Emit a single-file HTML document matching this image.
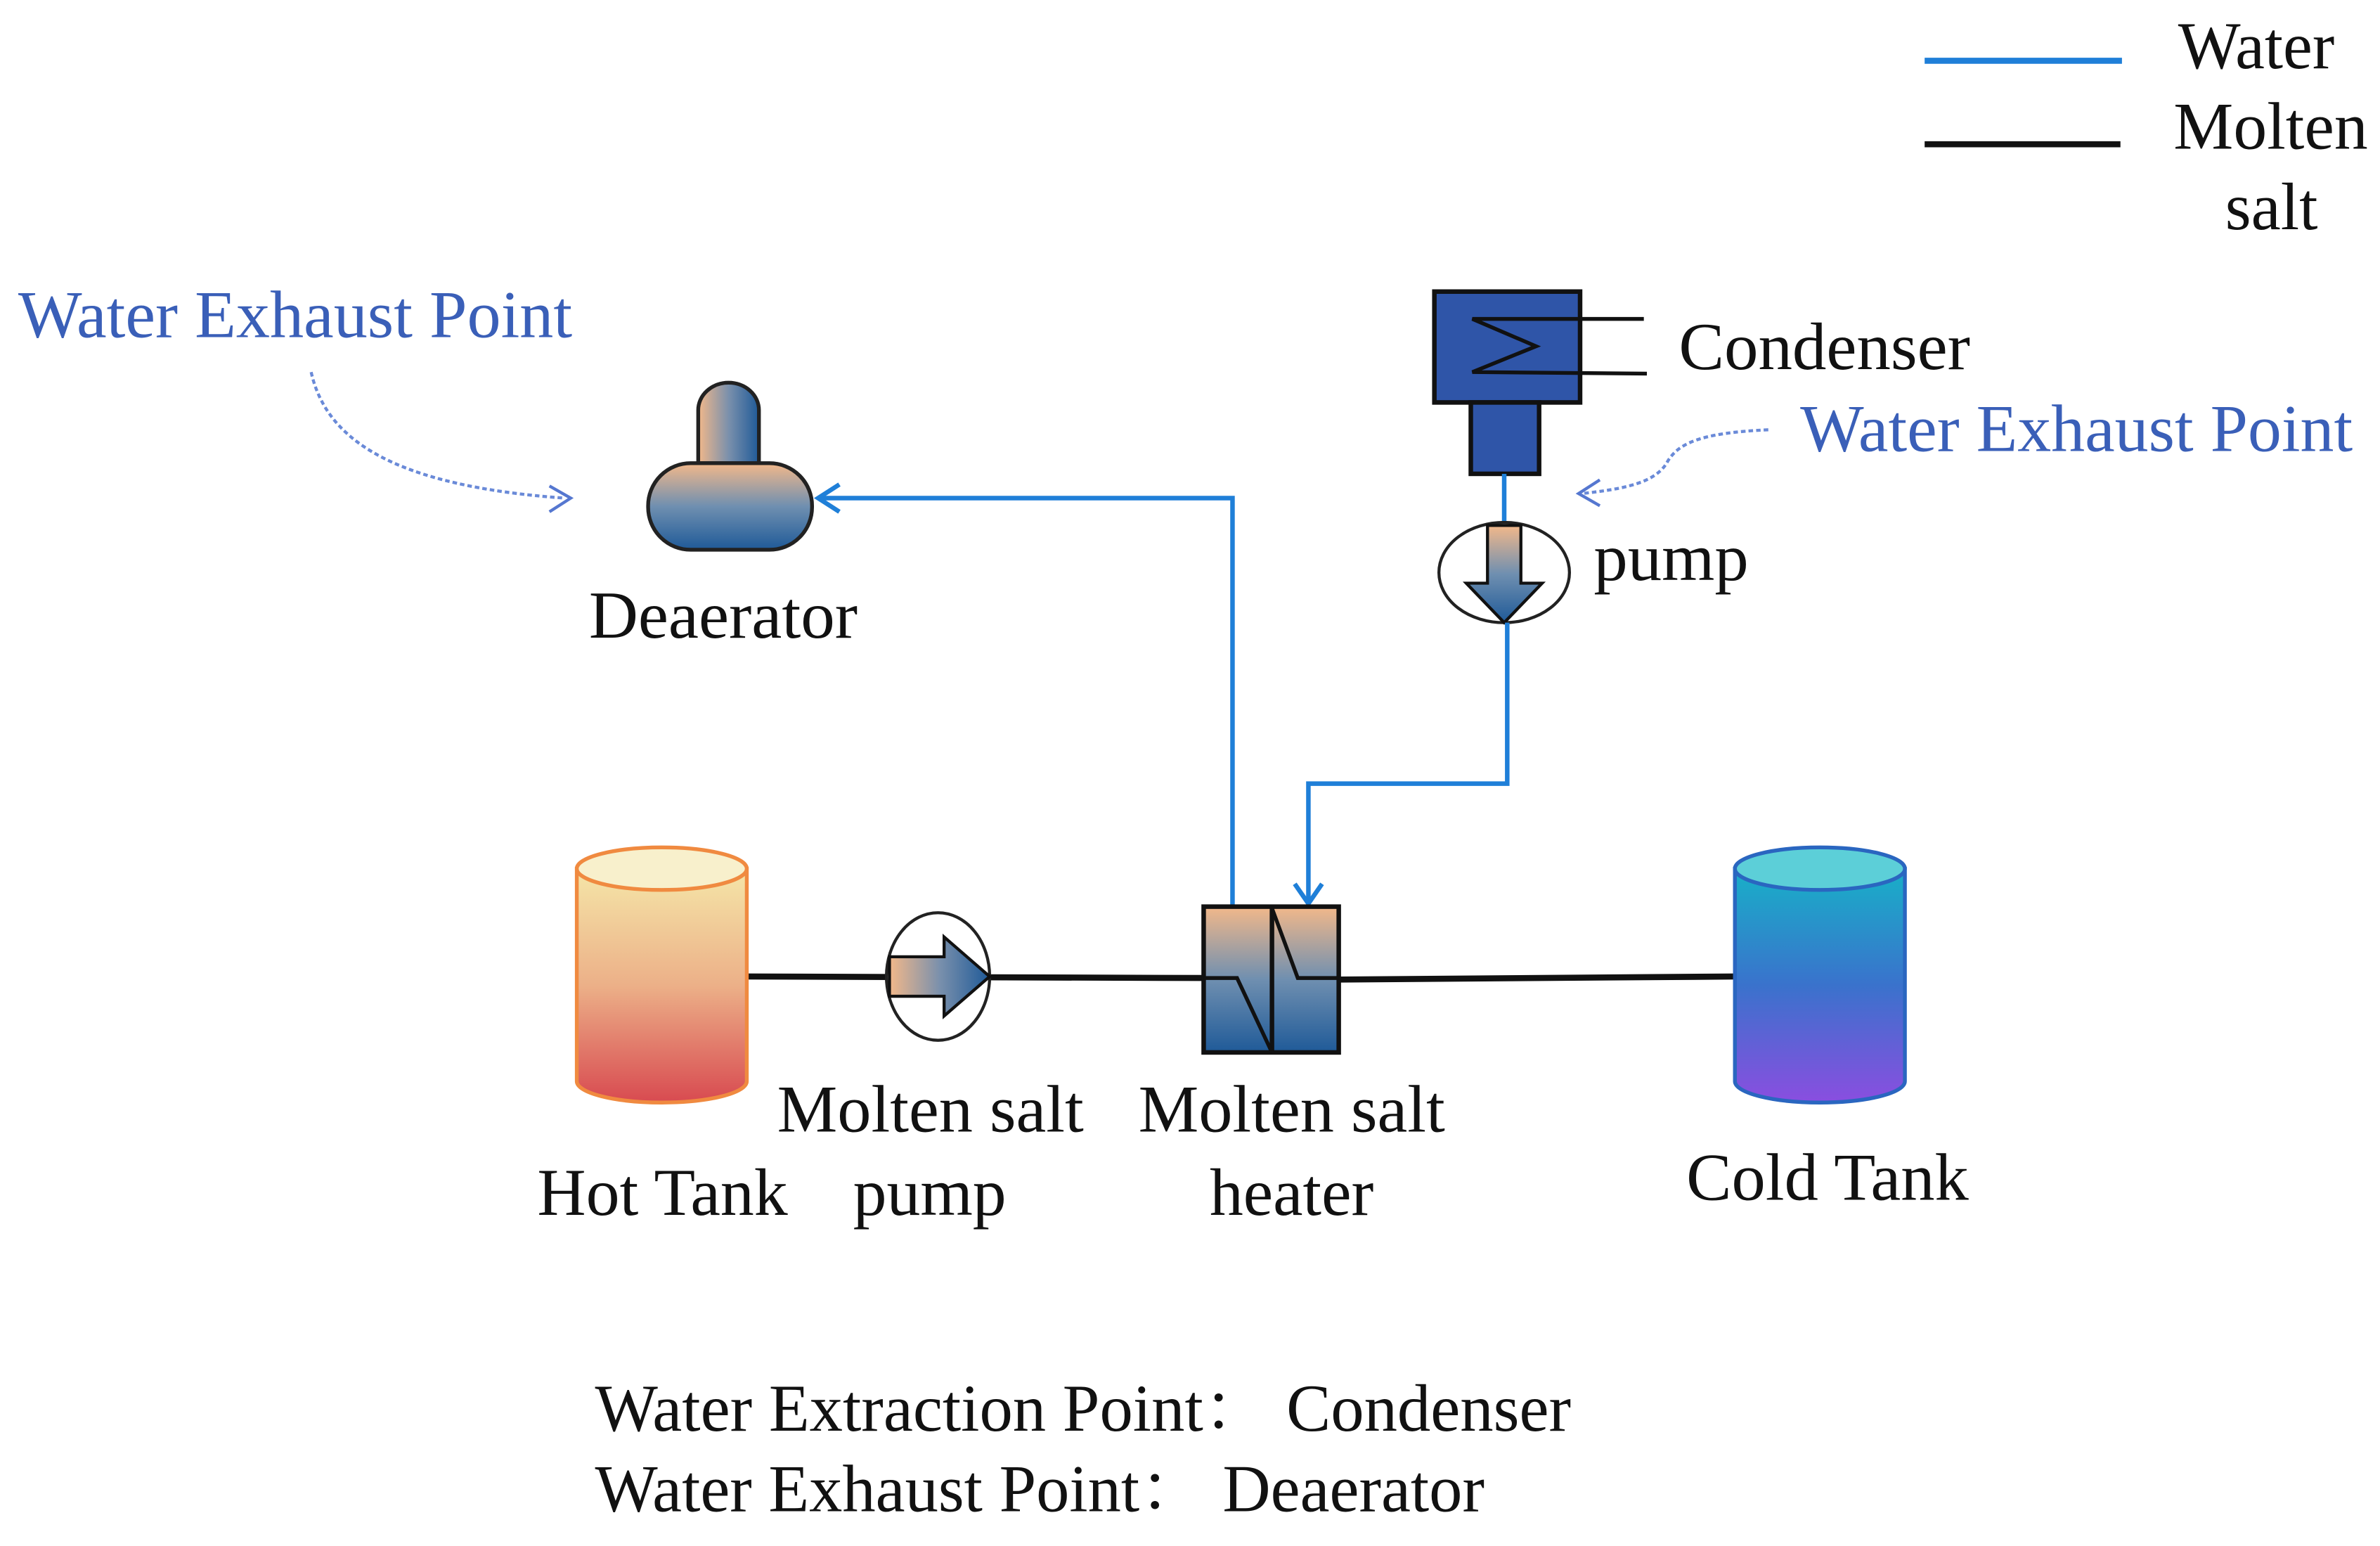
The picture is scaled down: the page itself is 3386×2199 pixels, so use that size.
<!DOCTYPE html>
<html><head><meta charset="utf-8"><style>
html,body{margin:0;padding:0;background:#fff;}
svg{display:block;}
text{font-family:"Liberation Serif","Noto Serif CJK SC",serif;}
</style></head><body>
<svg width="3386" height="2199" viewBox="0 0 1568 1018" preserveAspectRatio="none" xmlns="http://www.w3.org/2000/svg">
<defs>
<linearGradient id="g1" x1="0" y1="0" x2="0" y2="1"><stop offset="0" stop-color="#f2b88a"/><stop offset="0.5" stop-color="#6f8fb0"/><stop offset="1" stop-color="#1f5a98"/></linearGradient>
<linearGradient id="gh" x1="0" y1="0" x2="1" y2="0"><stop offset="0" stop-color="#f2b88a"/><stop offset="0.5" stop-color="#7a90ac"/><stop offset="1" stop-color="#1f5a98"/></linearGradient>
<linearGradient id="hot" x1="0" y1="0" x2="0" y2="1"><stop offset="0" stop-color="#f5e6a8"/><stop offset="0.5" stop-color="#ecb088"/><stop offset="1" stop-color="#d84a50"/></linearGradient>
<linearGradient id="cold" x1="0" y1="0" x2="0" y2="1"><stop offset="0" stop-color="#18b0c8"/><stop offset="0.5" stop-color="#3a72cc"/><stop offset="1" stop-color="#8a4ee0"/></linearGradient>
</defs>
<g font-size="44" fill="#111" lengthAdjust="spacingAndGlyphs">
<!-- legend -->
<line x1="1268" y1="40" x2="1398" y2="40" stroke="#1f7fd8" stroke-width="4"/>
<line x1="1268" y1="95" x2="1397" y2="95" stroke="#111" stroke-width="4"/>
<text x="1435" y="45" textLength="103" lengthAdjust="spacingAndGlyphs">Water</text>
<text x="1432" y="98" textLength="128" lengthAdjust="spacingAndGlyphs">Molten</text>
<text x="1466" y="151" textLength="61" lengthAdjust="spacingAndGlyphs">salt</text>
<!-- left exhaust label -->
<text x="12" y="222" fill="#3a5fb8" textLength="365" lengthAdjust="spacingAndGlyphs">Water Exhaust Point</text>
<path d="M205,245 C215,290 260,320 372,328" fill="none" stroke="#6a8ad8" stroke-width="2" stroke-dasharray="3,2"/>
<path d="M362,320 L376,328 L362,337" fill="none" stroke="#5577d0" stroke-width="2"/>
<!-- deaerator -->
<path d="M460,305 L460,270 A20,18 0 0 1 500,270 L500,305 Z" fill="url(#gh)" stroke="#222" stroke-width="2.5"/>
<rect x="427" y="305" width="108" height="57" rx="28" fill="url(#g1)" stroke="#222" stroke-width="2.5"/>
<text x="388" y="420" textLength="177" lengthAdjust="spacingAndGlyphs">Deaerator</text>
<!-- blue line to deaerator -->
<polyline points="812,596 812,328 539,328" fill="none" stroke="#1f7fd8" stroke-width="3"/>
<path d="M553,319 L539,328 L553,337" fill="none" stroke="#1f7fd8" stroke-width="3"/>
<!-- condenser -->
<rect x="945" y="192" width="96" height="73" fill="#2f55a8" stroke="#111" stroke-width="3"/>
<rect x="969" y="265" width="45" height="47" fill="#2f55a8" stroke="#111" stroke-width="3"/>
<polyline points="1083,210 970,210 1012,228 970,245 1085,246" fill="none" stroke="#111" stroke-width="2.5"/>
<text x="1106" y="243" textLength="192" lengthAdjust="spacingAndGlyphs">Condenser</text>
<text x="1186" y="297" fill="#3a5fb8" textLength="364" lengthAdjust="spacingAndGlyphs">Water Exhaust Point</text>
<path d="M1165,283 C1120,285 1105,292 1098,305 C1090,318 1070,322 1042,325" fill="none" stroke="#6a8ad8" stroke-width="2" stroke-dasharray="3,2"/>
<path d="M1054,316 L1040,325 L1054,333" fill="none" stroke="#5577d0" stroke-width="2"/>
<!-- water pump -->
<line x1="991" y1="312" x2="991" y2="346" stroke="#1f7fd8" stroke-width="3"/>
<ellipse cx="991" cy="377" rx="43" ry="33" fill="#fff" stroke="#222" stroke-width="2"/>
<path d="M980,346 L1002,346 L1002,384 L1016,384 L991,410 L966,384 L980,384 Z" fill="url(#g1)" stroke="#111" stroke-width="2"/>
<text x="1050" y="382" textLength="102" lengthAdjust="spacingAndGlyphs">pump</text>
<polyline points="993,410 993,516 862,516 862,594" fill="none" stroke="#1f7fd8" stroke-width="3"/>
<path d="M853,582 L862,595 L871,582" fill="none" stroke="#1f7fd8" stroke-width="3"/>
<!-- molten salt line -->
<line x1="492" y1="643" x2="793" y2="644" stroke="#111" stroke-width="4"/>
<line x1="882" y1="645" x2="1143" y2="643" stroke="#111" stroke-width="4"/>
<!-- heater -->
<rect x="793" y="597" width="89" height="96" fill="url(#g1)" stroke="#111" stroke-width="3"/>
<line x1="838" y1="597" x2="838" y2="693" stroke="#111" stroke-width="3"/>
<polyline points="793,644 815,644 838,693" fill="none" stroke="#111" stroke-width="2.5"/>
<polyline points="838,598 855,644 882,644" fill="none" stroke="#111" stroke-width="2.5"/>
<!-- hot tank -->
<path d="M380,572 L380,712 A56,14 0 0 0 492,712 L492,572 Z" fill="url(#hot)" stroke="#f08a40" stroke-width="2.5"/>
<ellipse cx="436" cy="572" rx="56" ry="14" fill="#f8f0cc" stroke="#f08a40" stroke-width="2.5"/>
<!-- molten salt pump -->
<ellipse cx="618" cy="643" rx="34" ry="42" fill="#fff" stroke="#222" stroke-width="2"/>
<path d="M586,630 L622,630 L622,617 L652,643 L622,669 L622,656 L586,656 Z" fill="url(#gh)" stroke="#111" stroke-width="2"/>
<!-- cold tank -->
<path d="M1143,572 L1143,712 A56,14 0 0 0 1255,712 L1255,572 Z" fill="url(#cold)" stroke="#2a66c0" stroke-width="2.5"/>
<ellipse cx="1199" cy="572" rx="56" ry="14" fill="#5ccfd8" stroke="#2a66c0" stroke-width="2.5"/>
<!-- labels -->
<text x="512" y="745" textLength="202" lengthAdjust="spacingAndGlyphs">Molten salt</text>
<text x="562" y="800" textLength="101" lengthAdjust="spacingAndGlyphs">pump</text>
<text x="354" y="800" textLength="165" lengthAdjust="spacingAndGlyphs">Hot Tank</text>
<text x="750" y="745" textLength="202" lengthAdjust="spacingAndGlyphs">Molten salt</text>
<text x="797" y="800" textLength="108" lengthAdjust="spacingAndGlyphs">heater</text>
<text x="1111" y="790" textLength="186" lengthAdjust="spacingAndGlyphs">Cold Tank</text>
<text x="392" y="942" textLength="643" lengthAdjust="spacingAndGlyphs">Water Extraction Point：  Condenser</text>
<text x="392" y="995" textLength="586" lengthAdjust="spacingAndGlyphs">Water Exhaust Point：  Deaerator</text>
</g>
</svg>
</body></html>
